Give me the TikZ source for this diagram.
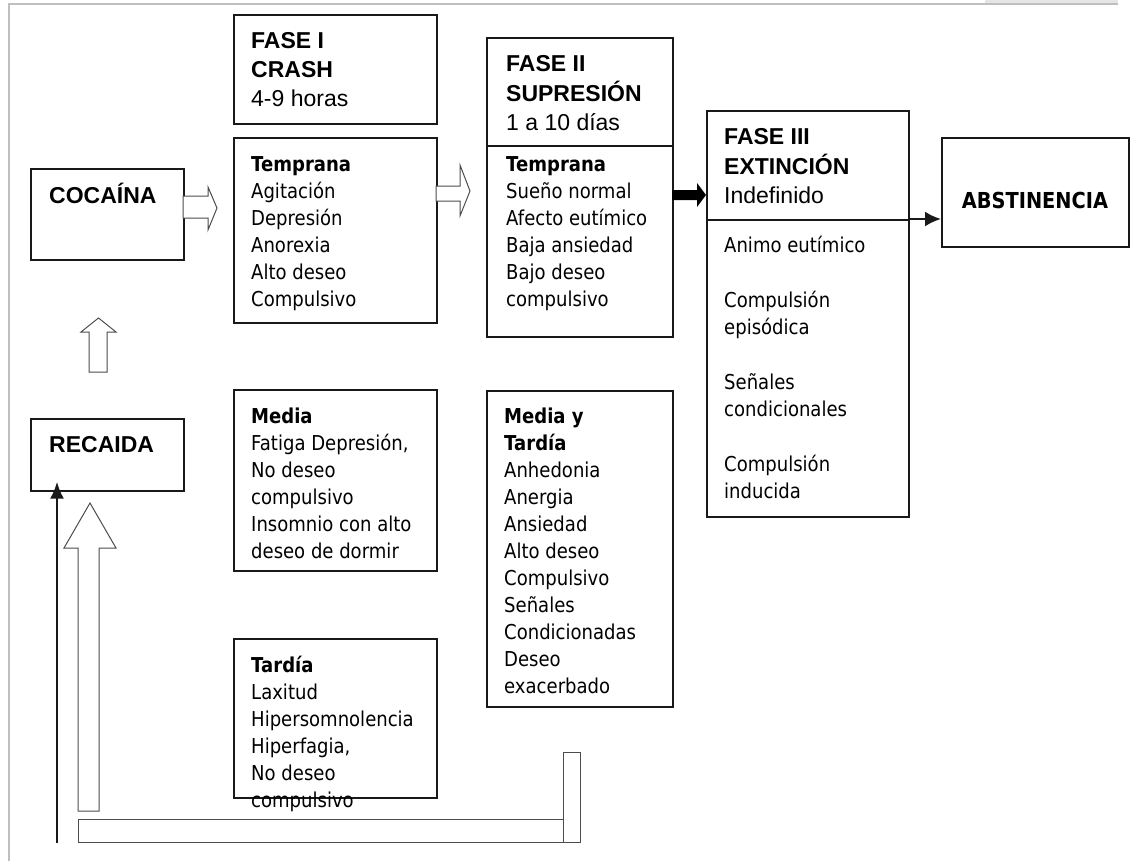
\documentclass[tikz,border=0pt]{standalone}
\usepackage{fontspec}
\setmainfont{Liberation Sans}
\newfontfamily\tah[FakeStretch=0.88]{DejaVu Sans}
\usetikzlibrary{arrows.meta,calc}
\definecolor{boxc}{gray}{0.1}
\definecolor{arrc}{gray}{0.3}
\definecolor{framec}{RGB}{190,190,196}
\begin{document}
\begin{tikzpicture}[x=1pt,y=-1pt,
  box/.style={draw=boxc,line width=1.6pt,anchor=north west,inner sep=0pt},
  hdr/.style={anchor=north west,inner sep=0pt,align=left,font=\fontsize{23}{29}\selectfont},
  body/.style={anchor=north west,inner sep=0pt,align=left,font=\tah\fontsize{20.5}{27}\selectfont},
  bigword/.style={inner sep=0pt,font=\bfseries\fontsize{23}{29}\selectfont},
  hollow/.style={draw=arrc,line width=1pt,fill=white},
  bar/.style={draw=arrc,line width=1pt},
]
\useasboundingbox (0,0) rectangle (1131,861);
% page frame
\fill[black!10] (985,0) rectangle (1118,3);
\draw[framec,line width=2.5pt] (9,861) -- (9,4) -- (1118,4);

% boxes
\node[box,minimum width=153pt,minimum height=91pt] (cocaina) at (30,168) {};
\node[box,minimum width=153pt,minimum height=72pt] (recaida) at (30,418) {};
\node[box,minimum width=203pt,minimum height=109pt] (faseI) at (233,14) {};
\node[box,minimum width=203pt,minimum height=185pt] (tempI) at (233,137) {};
\node[box,minimum width=203pt,minimum height=181pt] (mediaI) at (233,389) {};
\node[box,minimum width=203pt,minimum height=159pt] (tardiaI) at (233,638) {};
\node[box,minimum width=186pt,minimum height=108pt] (faseII) at (486,37) {};
\node[box,minimum width=186pt,minimum height=191pt] (tempII) at (486,145) {};
\node[box,minimum width=186pt,minimum height=316pt] (mediaII) at (486,390) {};
\node[box,minimum width=202pt,minimum height=109pt] (faseIII) at (706,110) {};
\node[box,minimum width=202pt,minimum height=297pt] (bodyIII) at (706,219) {};
\node[box,minimum width=187pt,minimum height=109pt] (abst) at (941,137) {};

% texts
\node[bigword,anchor=base west] (cocainaT) at (49,203) {COCAÍNA};
\node[bigword,anchor=base west] (recaidaT) at (49,452) {RECAIDA};
\node[inner sep=0pt,font=\tah\bfseries\fontsize{22}{26}\selectfont] (abstT) at (1035,200.5) {ABSTINENCIA};

\node[hdr] (faseIT) at (251,27.7) {\strut\textbf{FASE I}\\\textbf{CRASH}\\4-9 horas};
\node[body] (tempIT) at (251,152.1) {\strut\textbf{Temprana}\\Agitación\\Depresión\\Anorexia\\Alto deseo\\Compulsivo};
\node[body] (mediaIT) at (251,404.1) {\strut\textbf{Media}\\Fatiga Depresión,\\No deseo\\compulsivo\\Insomnio con alto\\deseo de dormir};
\node[body] (tardiaIT) at (251,653.1) {\strut\textbf{Tardía}\\Laxitud\\Hipersomnolencia\\Hiperfagia,\\No deseo\\compulsivo};

\node[hdr] (faseIIT) at (506,50.7) {\strut\textbf{FASE II}\\\textbf{SUPRESIÓN}\\1 a 10 días};
\node[body] (tempIIT) at (506,152.1) {\strut\textbf{Temprana}\\Sueño normal\\Afecto eutímico\\Baja ansiedad\\Bajo deseo\\compulsivo};
\node[body] (mediaIIT) at (504,404.1) {\strut\textbf{Media y}\\\textbf{Tardía}\\Anhedonia\\Anergia\\Ansiedad\\Alto deseo\\Compulsivo\\Señales\\Condicionadas\\Deseo\\exacerbado};

\node[hdr] (faseIIIT) at (724,123.7) {\strut\textbf{FASE III}\\\textbf{EXTINCIÓN}\\Indefinido};
\node[body] (bodyIIIT) at (724,233.1) {\strut Animo eutímico\\[28pt]Compulsión\\episódica\\[28pt]Señales\\condicionales\\[28pt]Compulsión\\inducida};

% block arrows
\draw[hollow] (183,196) -- (208,196) -- (208,187) -- (217,208) -- (208,230) -- (208,218) -- (183,218) -- cycle;
\draw[hollow] (436,186) -- (460,186) -- (460,165) -- (470,191) -- (460,216) -- (460,201) -- (436,201) -- cycle;
\fill[black] (672,190) -- (697,190) -- (697,183) -- (706,195) -- (697,207) -- (697,200) -- (672,200) -- cycle;
\draw[hollow] (89,372) -- (89,332) -- (81,332) -- (98.5,318) -- (116,332) -- (107,332) -- (107,372) -- cycle;
\draw[hollow] (78,811) -- (78,548) -- (64,548) -- (90,503) -- (116,548) -- (99,548) -- (99,811) -- cycle;

% return bars
\draw[bar] (78,819) rectangle (563,842);
\draw[bar] (563,752) rectangle (580,842);

% thin arrows
\draw[boxc,line width=2.3pt,-{Latex[length=16pt,width=15pt]}] (bodyIII.north east) -- (bodyIII.north east -| abst.west);
\coordinate (rb) at (57,843);
\draw[boxc,line width=2.6pt,-{Latex[length=17pt,width=14pt]}] (rb) -- ([yshift=10pt]recaida.south -| rb);
\end{tikzpicture}
\end{document}
